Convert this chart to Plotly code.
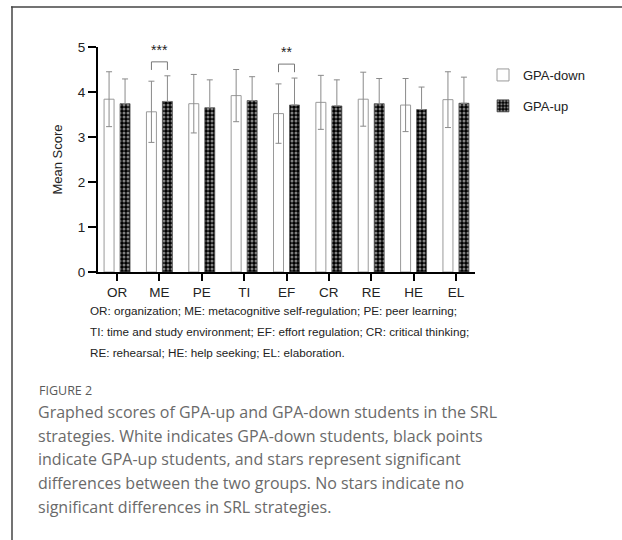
import plotly.graph_objects as go

categories = ["OR", "ME", "PE", "TI", "EF", "CR", "RE", "HE", "EL"]
gpa_down_mean = [3.84, 3.56, 3.74, 3.92, 3.52, 3.77, 3.84, 3.71, 3.83]
gpa_down_sd = [0.61, 0.68, 0.65, 0.58, 0.66, 0.60, 0.60, 0.59, 0.62]
gpa_up_mean = [3.74, 3.79, 3.65, 3.81, 3.71, 3.69, 3.74, 3.61, 3.75]
gpa_up_sd = [0.55, 0.57, 0.62, 0.53, 0.60, 0.58, 0.56, 0.50, 0.58]
sig_pairs = [("ME", "***", 4.67), ("EF", "**", 4.62)]
note_lines = [
    "OR: organization; ME: metacognitive self-regulation; PE: peer learning;",
    "TI: time and study environment; EF: effort regulation; CR: critical thinking;",
    "RE: rehearsal; HE: help seeking; EL: elaboration.",
]
caption_title = "FIGURE 2"
caption_lines = [
    "Graphed scores of GPA-up and GPA-down students in the SRL",
    "strategies. White indicates GPA-down students, black points",
    "indicate GPA-up students, and stars represent significant",
    "differences between the two groups. No stars indicate no",
    "significant differences in SRL strategies.",
]

W, H = 622, 540
L, R, T, B = 98, 475, 47, 272  # plot area in pixels
BARGAP, BARGROUPGAP = 0.245, 0.375
slot = (1 - BARGAP) / 2
offset = slot / 2

def px(x):
    return (x - L) / (R - L)

def py(y):
    return (B - y) / (B - T)

xs = list(range(len(categories)))
fig = go.Figure()
fig.add_trace(go.Bar(
    x=xs, y=gpa_down_mean, name="GPA-down", legendgroup="a",
    marker=dict(color="white", line=dict(color="#9a9a9a", width=1)),
    error_y=dict(type="data", array=gpa_down_sd, color="#8a8a8a", thickness=1, width=3),
))
fig.add_trace(go.Bar(
    x=xs, y=gpa_up_mean, name="GPA-up", legendgroup="b",
    marker=dict(color="black", line=dict(color="#555555", width=0.8),
                pattern=dict(shape=".", fgcolor="white", bgcolor="black", size=4, solidity=0.45)),
    error_y=dict(type="data", symmetric=False, array=gpa_up_sd, arrayminus=[0] * len(gpa_up_sd),
                 color="#8a8a8a", thickness=1, width=3),
))

for cat, stars, ytop in sig_pairs:
    i = categories.index(cat)
    x0, x1 = i - offset, i + offset
    fig.add_shape(type="path", path=f"M {x0},{ytop-0.18} L {x0},{ytop} L {x1},{ytop} L {x1},{ytop-0.18}",
                  line=dict(color="#777777", width=1), xref="x", yref="y")
    fig.add_annotation(x=i, y=ytop + 0.04, text=stars, showarrow=False, yanchor="bottom",
                       font=dict(size=14, color="#222", family="Liberation Sans, Arial"), xref="x", yref="y")

for k, line in enumerate(note_lines):
    fig.add_annotation(x=px(88), y=py(310 + 21 * k), xref="paper", yref="paper", text=line,
                       showarrow=False, xanchor="left", yanchor="middle",
                       font=dict(size=11.7, color="#222", family="Liberation Sans, Arial"))

fig.add_annotation(x=px(37), y=py(390), xref="paper", yref="paper", text=caption_title,
                   showarrow=False, xanchor="left", yanchor="middle",
                   font=dict(size=12.5, color="#5a5a5a", family="Open Sans"))
for k, line in enumerate(caption_lines):
    fig.add_annotation(x=px(36), y=py(412 + 23.7 * k), xref="paper", yref="paper", text=line,
                       showarrow=False, xanchor="left", yanchor="middle",
                       font=dict(size=16, color="#6a6a6a", family="Open Sans"))

# frame
fig.add_shape(type="line", xref="paper", yref="paper", x0=px(11), x1=px(640), y0=py(7), y1=py(7),
              line=dict(color="#444", width=1.5))
fig.add_shape(type="line", xref="paper", yref="paper", x0=px(12), x1=px(12), y0=py(6.5), y1=py(540),
              line=dict(color="#444", width=1.5))

fig.update_layout(
    width=W, height=H,
    margin=dict(l=L, r=W - R, t=T, b=H - B),
    paper_bgcolor="white", plot_bgcolor="white",
    barmode="group", bargap=BARGAP, bargroupgap=BARGROUPGAP,
    font=dict(family="Liberation Sans, Arial", size=13, color="#222"),
    showlegend=True,
    legend=dict(x=px(483), y=py(60), xanchor="left", yanchor="top", tracegroupgap=11,
                font=dict(size=13, color="#222"), bgcolor="rgba(0,0,0,0)"),
)
fig.update_xaxes(range=[-0.45, 8.45], tickvals=xs, ticktext=categories, showline=True,
                 linecolor="black", linewidth=2, ticks="outside", ticklen=7, tickwidth=2,
                 tickcolor="black", showgrid=False, zeroline=False, tickfont=dict(size=13.5))
fig.update_yaxes(range=[0, 5], tickvals=[0, 1, 2, 3, 4, 5], showline=True, linecolor="black",
                 linewidth=2, ticks="outside", ticklen=8, tickwidth=2, tickcolor="black",
                 showgrid=False, zeroline=False, tickfont=dict(size=13.5),
                 title=dict(text="Mean Score", font=dict(size=13), standoff=12))

fig.write_html("out.html", config={"displayModeBar": False},
               post_script="document.body.style.margin='0px';")
